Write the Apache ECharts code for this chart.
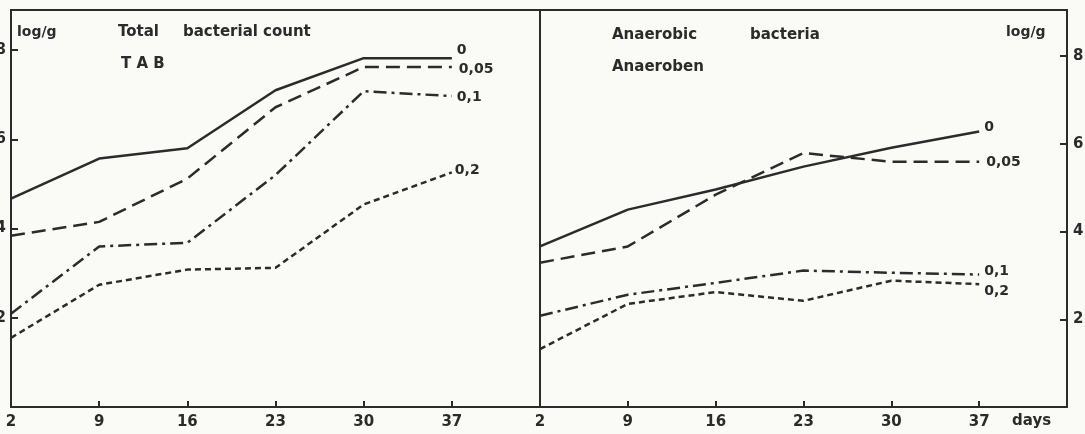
<!DOCTYPE html>
<html>
<head>
<meta charset="utf-8">
<script src="https://cdn.jsdelivr.net/npm/echarts@6/dist/echarts.min.js"></script>
<style>html,body{margin:0;padding:0;background:#fafaf6;}#c{width:1085px;height:434px;}</style>
</head>
<body>
<div id="c"></div>
<script>
// ---- data ----
const days = [2, 9, 16, 23, 30, 37];
const xTicks = [2, 9, 16, 23, 30, 37];
const yTicks = [2, 4, 6, 8];
const seriesNames = ['0', '0,05', '0,1', '0,2'];

// Total bacterial count (TAB), log/g
const tab0   = [4.67, 5.57, 5.80, 7.10, 7.82, 7.82];
const tab005 = [3.84, 4.15, 5.12, 6.72, 7.62, 7.62];
const tab01  = [2.09, 3.60, 3.68, 5.20, 7.08, 6.97];
const tab02  = [1.55, 2.74, 3.08, 3.12, 4.54, 5.26];

// Anaerobic bacteria, log/g
const ana0   = [3.66, 4.50, 4.96, 5.48, 5.91, 6.28];
const ana005 = [3.29, 3.66, 4.84, 5.79, 5.59, 5.59];
const ana01  = [2.08, 2.56, 2.83, 3.11, 3.06, 3.02];
const ana02  = [1.32, 2.35, 2.62, 2.42, 2.88, 2.80];

const ink = '#2b2b2b';
const font = 'DejaVu Sans';

const styles = [
  { type: 'solid' },
  { type: [14, 7] },
  { type: [13, 5, 3, 5] },
  { type: [6, 4] }
];
const leftOffsets = [[2, -8], [4, 2], [2, 1], [0, -2]];
const rightOffsets = [[2, -4], [4, 1], [2, -3], [2, 7]];

function pairs(vals) { return days.map((d, i) => [d, vals[i]]); }

function mkSeries(vals, k, gi, offs) {
  return {
    type: 'line', name: seriesNames[k], xAxisIndex: gi, yAxisIndex: gi,
    data: pairs(vals), symbol: 'none', silent: true,
    lineStyle: { color: ink, width: 2.5, type: styles[k].type },
    endLabel: { show: true, formatter: seriesNames[k], color: ink, fontFamily: font,
      fontWeight: 'bold', fontSize: 14, distance: 3, offset: offs[k] }
  };
}

function xAxis(gi) {
  return {
    type: 'value', gridIndex: gi, min: 2, max: 44,
    axisLine: { show: false }, splitLine: { show: false },
    axisTick: { show: true, inside: true, length: 6, customValues: xTicks, lineStyle: { color: ink, width: 2 } },
    axisLabel: { customValues: xTicks, margin: 8, color: ink, fontFamily: font, fontWeight: 'bold', fontSize: 15 }
  };
}
function yAxis(gi, pos, max) {
  return {
    type: 'value', gridIndex: gi, position: pos, min: 0, max: max,
    axisLine: { show: false }, splitLine: { show: false },
    axisTick: { show: true, inside: true, length: 7, customValues: yTicks, lineStyle: { color: ink, width: 2 } },
    axisLabel: { customValues: yTicks, margin: pos === 'left' ? 5 : 6, color: ink, fontFamily: font, fontWeight: 'bold', fontSize: 15 }
  };
}

function txt(x, y, s, size) {
  return { type: 'text', left: x, top: y, style: { text: s, fill: ink, font: 'bold ' + (size || 15) + 'px "' + font + '"' } };
}

const chart = echarts.init(document.getElementById('c'), null, { renderer: 'canvas' });
chart.setOption({
  backgroundColor: '#fafaf6',
  animation: false,
  grid: [
    { left: 11, right: 545, top: 10, bottom: 27, outerBoundsMode: 'none', containLabel: false, show: true, borderColor: ink, borderWidth: 2, backgroundColor: 'transparent' },
    { left: 540, right: 18, top: 10, bottom: 27, outerBoundsMode: 'none', containLabel: false, show: true, borderColor: ink, borderWidth: 2, backgroundColor: 'transparent' }
  ],
  xAxis: [xAxis(0), xAxis(1)],
  yAxis: [yAxis(0, 'left', 8.9), yAxis(1, 'right', 9.05)],
  series: [
    mkSeries(tab0, 0, 0, leftOffsets), mkSeries(tab005, 1, 0, leftOffsets),
    mkSeries(tab01, 2, 0, leftOffsets), mkSeries(tab02, 3, 0, leftOffsets),
    mkSeries(ana0, 0, 1, rightOffsets), mkSeries(ana005, 1, 1, rightOffsets),
    mkSeries(ana01, 2, 1, rightOffsets), mkSeries(ana02, 3, 1, rightOffsets)
  ],
  graphic: [
    txt(17, 25, 'log/g', 14),
    txt(118, 25, 'Total', 15),
    txt(183, 25, 'bacterial', 15),
    txt(263, 25, 'count', 15),
    txt(121, 57, 'T A B', 15),
    txt(612, 28, 'Anaerobic', 15),
    txt(750, 28, 'bacteria', 15),
    txt(612, 60, 'Anaeroben', 15),
    txt(1006, 25, 'log/g', 14),
    txt(1012, 414, 'days', 15)
  ]
});
</script>
</body>
</html>
